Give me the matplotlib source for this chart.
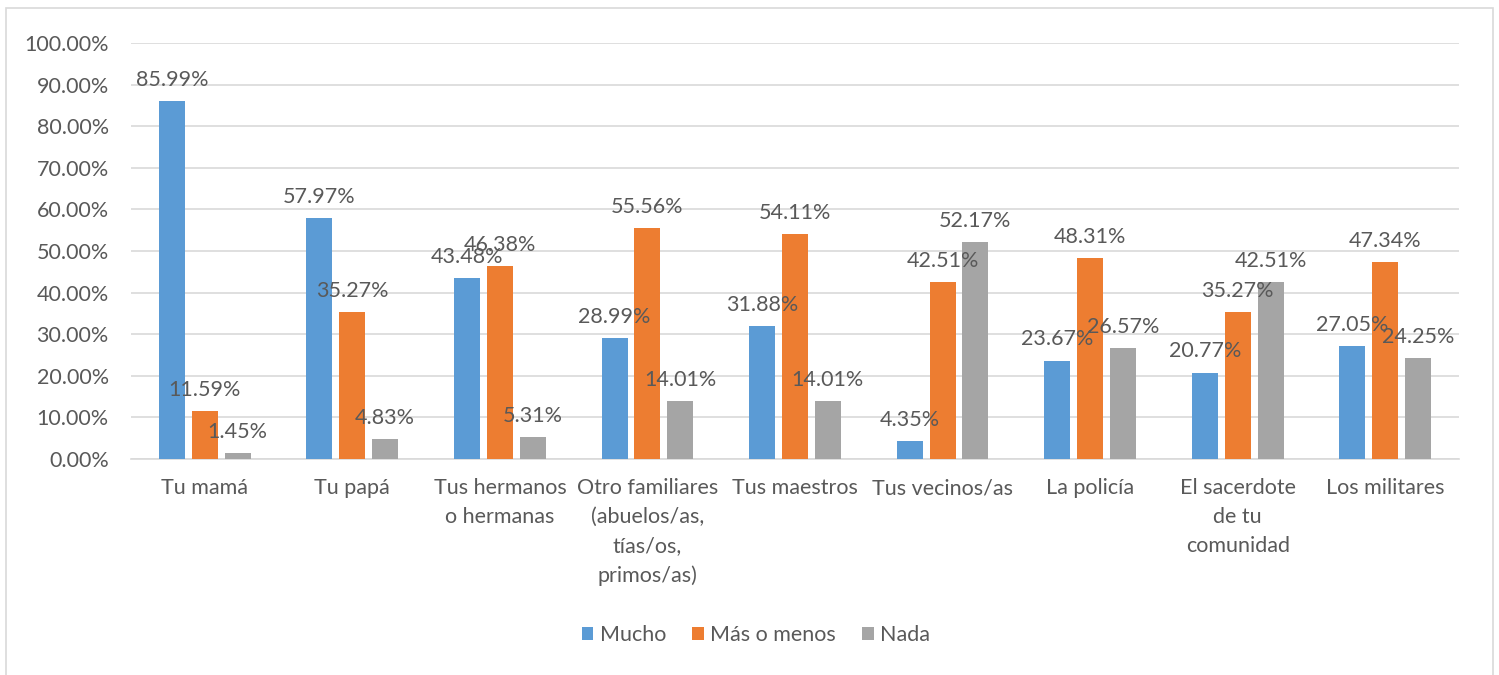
import numpy as np
import matplotlib

matplotlib.use('Agg')
import matplotlib.pyplot as plt
from matplotlib.patches import Rectangle
from matplotlib.ticker import FuncFormatter

plt.rcParams['font.family'] = ['Lato', 'DejaVu Sans']

# data
categories = ['Tu mamá', 'Tu papá', 'Tus hermanos\no hermanas',
              'Otro familiares\n(abuelos/as,\ntías/os,\nprimos/as)', 'Tus maestros',
              'Tus vecinos/as', 'La policía', 'El sacerdote\nde tu\ncomunidad', 'Los militares']
mucho = [85.99, 57.97, 43.48, 28.99, 31.88, 4.35, 23.67, 20.77, 27.05]
mas_o_menos = [11.59, 35.27, 46.38, 55.56, 54.11, 42.51, 48.31, 35.27, 47.34]
nada = [1.45, 4.83, 5.31, 14.01, 14.01, 52.17, 26.57, 42.51, 24.25]
series_names = ['Mucho', 'Más o menos', 'Nada']
colors = ['#5B9BD5', '#ED7D31', '#A5A5A5']
text_color = '#595959'
fs = 15.5

fig = plt.figure(figsize=(14.99, 6.75), dpi=100)
fig.patches.append(Rectangle((6 / 1499, -0.05), 1487 / 1499, 1 - 8 / 675 + 0.05,
                             transform=fig.transFigure, fill=False,
                             edgecolor='#D9D9D9', linewidth=1.2))
ax = fig.add_axes([131 / 1499, (675 - 459) / 675, 1328 / 1499, 416 / 675])

x = np.arange(len(categories))
width = 0.176
step = 0.223
for i, (vals, name) in enumerate(zip([mucho, mas_o_menos, nada], series_names)):
    pos = x + (i - 1) * step
    ax.bar(pos, vals, width=width, color=colors[i], label=name, zorder=3)
    for p, v in zip(pos, vals):
        ax.annotate(f'{v:.2f}%', (p, v), xytext=(0, 8), textcoords='offset points',
                    ha='center', va='bottom', fontsize=fs, color=text_color, zorder=4)

ax.set_xlim(-0.5, len(categories) - 0.5)
ax.set_ylim(0, 100)
ax.set_yticks(np.arange(0, 101, 10))
ax.yaxis.set_major_formatter(FuncFormatter(lambda v, _: f'{v:.2f}%'))
ax.set_xticks(x)
ax.set_xticklabels(categories, linespacing=1.55)
ax.tick_params(axis='both', length=0, labelsize=fs, labelcolor=text_color)
ax.tick_params(axis='x', pad=14)
ax.tick_params(axis='y', pad=16)
ax.grid(axis='y', color='#D9D9D9', linewidth=1.2, zorder=0)
for side in ['top', 'right', 'left']:
    ax.spines[side].set_visible(False)
ax.spines['bottom'].set_color('#D9D9D9')
ax.spines['bottom'].set_linewidth(1.2)

fig.legend(loc='center', bbox_to_anchor=(756 / 1499, 1 - 635 / 675), ncol=3,
           frameon=False, fontsize=fs, labelcolor=text_color, handlelength=0.55,
           handleheight=0.55, handletextpad=0.3, columnspacing=1.2)

fig.savefig('out.png', dpi=100)
